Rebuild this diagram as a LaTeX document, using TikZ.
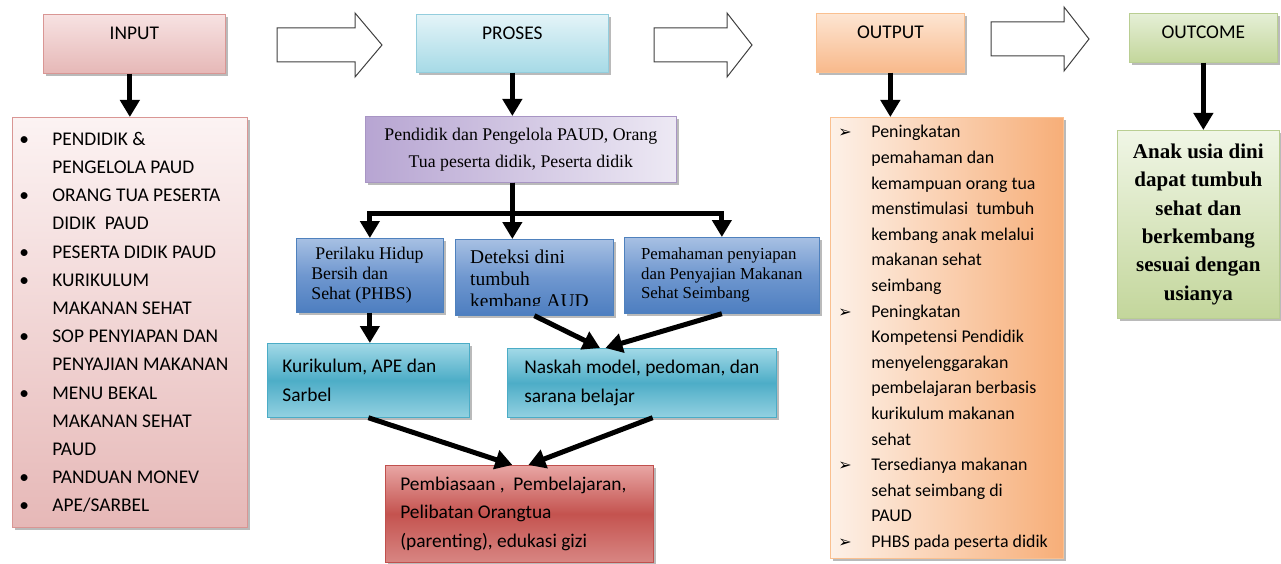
\documentclass[tikz,border=0pt]{standalone}
\usepackage{fontspec}
\setmainfont{Carlito}
\newfontfamily\tnr{Liberation Serif}
\newfontfamily\symf{DejaVu Sans}
\usepackage{tikz}
\usetikzlibrary{arrows.meta,positioning,calc,shadows}
\definecolor{pinkA}{HTML}{F7E2E2}
\definecolor{pinkB}{HTML}{E6B8B7}
\definecolor{pinkL}{HTML}{FCF3F3}
\definecolor{pinkline}{HTML}{D99694}
\definecolor{cyanA}{HTML}{E4F4F8}
\definecolor{cyanB}{HTML}{A6DAE6}
\definecolor{cyanline}{HTML}{93CDDD}
\definecolor{purA}{HTML}{B7A5D2}
\definecolor{purB}{HTML}{EDE9F4}
\definecolor{purline}{HTML}{A895C4}
\definecolor{blueA}{HTML}{A7C0E3}
\definecolor{blueM}{HTML}{6F97CF}
\definecolor{blueB}{HTML}{4D7EC0}
\definecolor{blueline}{HTML}{4F81BD}
\definecolor{tealA}{HTML}{A2D9E7}
\definecolor{tealM}{HTML}{4DADC7}
\definecolor{tealB}{HTML}{93D1E1}
\definecolor{tealline}{HTML}{4BACC6}
\definecolor{redA}{HTML}{E8A6A4}
\definecolor{redM}{HTML}{C4534F}
\definecolor{redB}{HTML}{D88683}
\definecolor{redline}{HTML}{C0504D}
\definecolor{orA}{HTML}{FDE5D2}
\definecolor{orB}{HTML}{F8B98B}
\definecolor{orL}{HTML}{FDF1E8}
\definecolor{orR}{HTML}{F7AE78}
\definecolor{orline}{HTML}{FAC090}
\definecolor{grA}{HTML}{E5EFD6}
\definecolor{grB}{HTML}{C3D69B}
\definecolor{grL}{HTML}{F0F6E6}
\definecolor{grline}{HTML}{B9CE92}
\newcommand{\dotitem}{\makebox[33pt][l]{\textbullet}}
\newcommand{\arritem}{\makebox[33pt][l]{\symf\fontsize{16}{16}\selectfont ➢}}
\newcommand{\hang}{\hspace*{33pt}}
\tikzset{
  box/.style={draw,line width=0.7pt,anchor=north west,inner sep=0pt,
    drop shadow={shadow xshift=2.5pt,shadow yshift=-2.5pt,fill=black!60,opacity=.45}},
  boxsize/.style 2 args={minimum width=#1pt,minimum height=#2pt},
  hdr/.style={box,inner ysep=5pt,text height=20pt,font=\fontsize{19.4}{24}\selectfont},
  lst/.style={box,align=flush left,inner xsep=7pt},
  sbox/.style={box,align=flush left,font=\fontsize{19.4}{28.3}\selectfont,
    draw=tealline,top color=tealA,bottom color=tealB,middle color=tealM},
  tbox/.style={box,align=flush left,draw=blueline,top color=blueA,bottom color=blueB,middle color=blueM},
  flow/.style={-{Triangle[length=17pt,width=19pt]},line width=5pt,draw=black},
  hollow/.style={draw=black!75,line width=1pt,fill=white,line join=miter},
}
\begin{document}
\begin{tikzpicture}[x=1pt,y=-1pt]
  \useasboundingbox (0,0) rectangle (1281,564);
  % big hollow arrows between the stages
  \foreach \xa/\xb/\xc/\yc in {277/355/382/45,654/727/752/45,991/1064/1089/39}
    \draw[hollow](\xa,\yc-17) -- (\xb,\yc-17) -- (\xb,\yc-32) -- (\xc,\yc)
      -- (\xb,\yc+32) -- (\xb,\yc+17) -- (\xa,\yc+17) -- cycle;
  % stage headers
  \node[hdr,boxsize={182}{59},text depth=29pt,draw=pinkline,top color=pinkA,bottom color=pinkB](in) at (43,14){INPUT};
  \node[hdr,boxsize={192}{58},text depth=28pt,draw=cyanline,top color=cyanA,bottom color=cyanB](pr) at (416,14){PROSES};
  \node[hdr,boxsize={148}{59},text depth=29pt,draw=orline,top color=orA,bottom color=orB](out) at (816,13){OUTPUT};
  \node[hdr,boxsize={148}{49},text depth=19pt,draw=grline,top color=grA,bottom color=grB](oc) at (1129,13){OUTCOME};
  % input list
  \node[lst,boxsize={235}{410},text width=221pt,draw=pinkline,top color=pinkL,bottom color=pinkB,
    font=\fontsize{19.4}{28.2}\selectfont](inl) at (12,117){%
    \dotitem PENDIDIK \&\\
    \hang PENGELOLA PAUD\\
    \dotitem ORANG TUA PESERTA\\
    \hang DIDIK\ \ PAUD\\
    \dotitem PESERTA DIDIK PAUD\\
    \dotitem KURIKULUM\\
    \hang MAKANAN SEHAT\\
    \dotitem SOP PENYIAPAN DAN\\
    \hang PENYAJIAN MAKANAN\\
    \dotitem MENU BEKAL\\
    \hang MAKANAN SEHAT\\
    \hang PAUD\\
    \dotitem PANDUAN MONEV\\
    \dotitem APE/SARBEL};
  % process column
  \node[box,boxsize={311}{66},align=center,draw=purline,left color=purA,right color=purB,
    font=\tnr\fontsize{17.8}{27}\selectfont](pl) at (365,116){%
    Pendidik dan Pengelola PAUD, Orang\\Tua peserta didik, Peserta didik};
  \node[tbox,boxsize={147}{74},inner xsep=15pt,text width=117pt,
    font=\tnr\fontsize{17.8}{20}\selectfont](phbs) at (296,238){%
    \hspace*{4pt}Perilaku Hidup\\Bersih dan\\Sehat (PHBS)};
  \node[tbox,boxsize={158}{76}](det) at (455,239){};
  \begin{scope}
    \clip (det.north west) rectangle ($(det.south east)+(0,-10)$);
    \node[anchor=north west,inner sep=0pt,align=flush left,
      font=\tnr\fontsize{19.5}{22}\selectfont](dett) at ($(det.north west)+(15,11)$){%
      Deteksi dini\\tumbuh\\kembang AUD};
  \end{scope}
  \node[tbox,boxsize={195}{76},font=\tnr\fontsize{16.8}{19.5}\selectfont](pem) at (624,237){%
    Pemahaman penyiapan\\dan Penyajian Makanan\\Sehat Seimbang};
  \node[sbox,boxsize={202}{74},inner xsep=15pt,text width=172pt](kur) at (267,343){%
    Kurikulum, APE dan\\Sarbel};
  \node[sbox,boxsize={269}{69}](nas) at (507,348){%
    Naskah model, pedoman, dan\\sarana belajar};
  \node[sbox,boxsize={268}{97},inner xsep=15pt,text width=238pt,
    draw=redline,top color=redA,bottom color=redB,middle color=redM,
    font=\fontsize{19.4}{28.5}\selectfont](red) at (385,465){%
    Pembiasaan ,\ \ Pembelajaran,\\Pelibatan Orangtua\\(parenting), edukasi gizi};
  % output list
  \node[lst,boxsize={233}{441},inner xsep=8pt,text width=217pt,draw=orline,left color=orL,right color=orR,
    font=\fontsize{17.9}{25.6}\selectfont](outl) at (830,117){%
    \arritem Peningkatan\\
    \hang pemahaman dan\\
    \hang kemampuan orang tua\\
    \hang menstimulasi\ \ tumbuh\\
    \hang kembang anak melalui\\
    \hang makanan sehat\\
    \hang seimbang\\
    \arritem Peningkatan\\
    \hang Kompetensi Pendidik\\
    \hang menyelenggarakan\\
    \hang pembelajaran berbasis\\
    \hang kurikulum makanan\\
    \hang sehat\\
    \arritem Tersedianya makanan\\
    \hang sehat seimbang di\\
    \hang PAUD\\
    \arritem PHBS pada peserta didik};
  % outcome
  \node[box,boxsize={162}{188},align=center,draw=grline,top color=grL,bottom color=grB,
    font=\tnr\bfseries\fontsize{21}{28.3}\selectfont](ocl) at (1117,130){%
    Anak usia dini\\dapat tumbuh\\sehat dan\\berkembang\\sesuai dengan\\usianya};
  % connectors
  \draw[flow](inl.north |- in.south) -- (inl.north);
  \draw[flow](pr.south) -- (pr.south |- pl.north);
  \draw[flow](pl.south -| pr.south) -- (det.north -| pr.south);
  \draw[flow](pl.south -| pr.south) -- ++(0,31) -| (phbs.north);
  \draw[flow](pl.south -| pr.south) -- ++(0,31) -| (pem.north);
  \draw[flow](phbs.south) -- (phbs.south |- kur.north);
  \draw[flow](det.south) -- ($(nas.north west)!.345!(nas.north east)$);
  \draw[flow](pem.south) -- ($(nas.north west)!.365!(nas.north east)$);
  \draw[flow](kur.south) -- ($(red.north)+(-7,0)$);
  \draw[flow]($(nas.south west)!.54!(nas.south east)$) -- ($(red.north)+(9,0)$);
  \draw[flow](out.south) -- (out.south |- outl.north);
  \draw[flow](oc.south) -- (oc.south |- ocl.north);
\end{tikzpicture}
\end{document}
